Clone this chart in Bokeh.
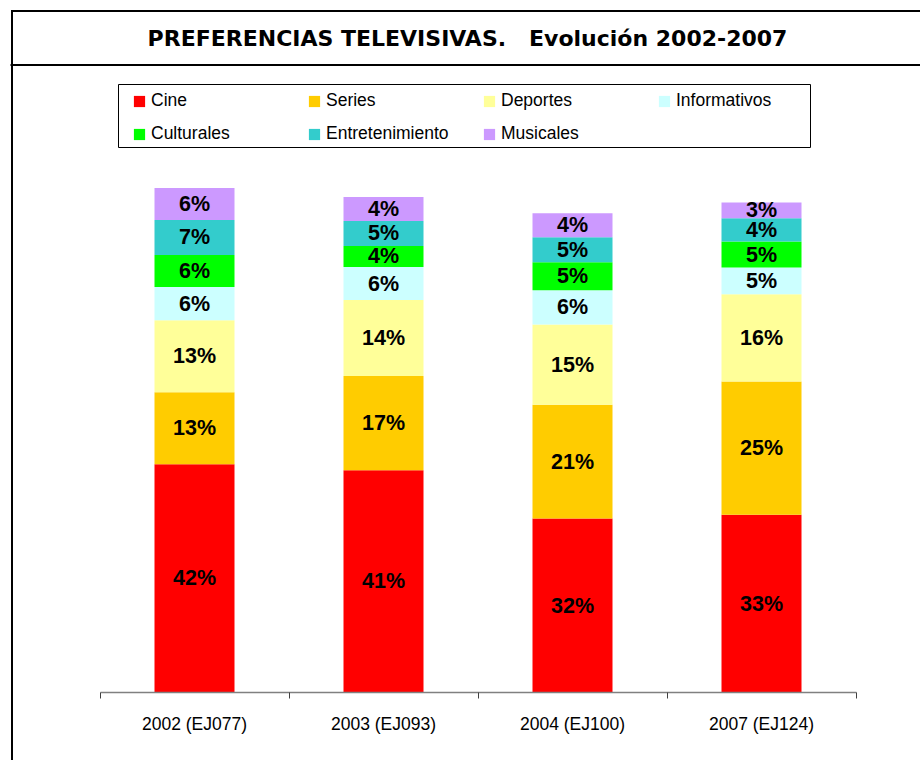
from bokeh.plotting import figure
from bokeh.models import (ColumnDataSource, LinearAxis, FixedTicker, Range1d)
from bokeh.core.properties import value
from bokeh.embed import file_html
from bokeh.resources import INLINE

# ---------------- data ----------------
categories = ["2002 (EJ077)", "2003 (EJ093)", "2004 (EJ100)", "2007 (EJ124)"]
series_names = ["Cine", "Series", "Deportes", "Informativos",
                "Culturales", "Entretenimiento", "Musicales"]
cine = [42.1, 41.0, 32.1, 32.8]
series = [13.3, 17.4, 21.0, 24.6]
deportes = [13.3, 14.0, 14.8, 16.1]
informativos = [6.1, 6.1, 6.3, 4.9]
culturales = [5.9, 3.9, 5.2, 4.8]
entretenimiento = [6.5, 4.6, 4.6, 4.3]
musicales = [5.9, 4.4, 4.4, 2.9]
colors = ["#FF0000", "#FFCC00", "#FFFF99", "#CCFFFF",
          "#00FF00", "#33CCCC", "#CC99FF"]
title_text = "PREFERENCIAS TELEVISIVAS.\u00a0\u00a0\u00a0Evolución 2002-2007"

# ---------------- layout (pixels) ----------------
W, H = 920, 760          # canvas size
OFF = 0
X0_PX = 99.5 - OFF       # canvas x of category boundary 0
PX_X = 189.0             # pixels per category
Y0_PX = 692 - OFF        # canvas y of value 0
PX_Y = 5.42              # pixels per percent

x_start = -X0_PX / PX_X
x_end = x_start + W / PX_X
y_start = -(H - Y0_PX) / PX_Y
y_end = y_start + H / PX_Y


def xd(sx):
    return x_start + (sx - OFF) / PX_X


def yd(sy):
    return y_end - (sy - OFF) / PX_Y


p = figure(width=W, height=H, output_backend="svg", toolbar_location=None,
           x_range=Range1d(x_start, x_end), y_range=Range1d(y_start, y_end),
           x_axis_type=None, y_axis_type=None, min_border=0,
           outline_line_color=None, background_fill_color="white",
           border_fill_color="white")
p.xgrid.visible = False
p.ygrid.visible = False

# frame lines (border + title separator)
p.segment(x0=[xd(11.5), xd(10.5), xd(10.0)],
          y0=[yd(10.0), yd(10.5), yd(64.5)],
          x1=[xd(11.5), xd(930), xd(930)],
          y1=[yd(770), yd(10.5), yd(64.5)],
          line_color="black", line_width=2)

# title
p.text(x=[xd(467)], y=[yd(37.5)], text=[title_text],
       text_font=value("DejaVu Sans"), text_font_style="bold",
       text_font_size="22px", text_align="center", text_baseline="middle",
       text_color="black")

# legend box
p.quad(left=[xd(118)], right=[xd(810)], top=[yd(84)], bottom=[yd(147)],
       fill_color="white", line_color="black", line_width=1)

# bars
xs = [i + 0.5 for i in range(len(categories))]
values = [cine, series, deportes, informativos, culturales,
          entretenimiento, musicales]
data = {"x": xs}
for name, vals in zip(series_names, values):
    data[name] = vals
src = ColumnDataSource(data)
p.vbar_stack(series_names, x="x", width=80 / PX_X, source=src,
             fill_color=colors, line_color=None,
             legend_label=series_names)

# value labels
lx, ly, lt = [], [], []
for j, x in enumerate(xs):
    base = 0.0
    for vals in values:
        v = vals[j]
        lx.append(x)
        ly.append(base + v / 2)
        lt.append("%d%%" % int(v + 0.5))
        base += v
p.text(x=lx, y=ly, text=lt, text_font=value("Liberation Sans"),
       text_font_style="bold", text_font_size="21.5px",
       text_align="center", text_baseline="middle", text_color="black")

# x axis at y = 0
centers = xs
bounds_ticks = list(range(len(categories) + 1))
ax = LinearAxis(ticker=FixedTicker(ticks=centers, minor_ticks=bounds_ticks),
                fixed_location=0, bounds=(0, len(categories)))
ax.major_label_overrides = {c: lab for c, lab in zip(centers, categories)}
ax.major_tick_line_color = None
ax.minor_tick_line_color = "#404040"
ax.minor_tick_in = 0
ax.minor_tick_out = 6
ax.axis_line_color = "#808080"
ax.axis_line_width = 1.5
ax.major_label_standoff = 15
ax.major_label_text_font = "Liberation Sans"
ax.major_label_text_font_size = "17.5px"
ax.major_label_text_color = "black"
p.add_layout(ax, "below")

# legend
lg = p.legend[0]
lg.orientation = "horizontal"
lg.ncols = 4
lg.location = (132, H - 72 - 72)
lg.padding = 10
lg.margin = 0
lg.spacing = 12
lg.glyph_width = 14
lg.glyph_height = 14
lg.label_standoff = 5
lg.label_width = 144
lg.label_height = 20
lg.label_text_font = "Liberation Sans"
lg.label_text_font_size = "17.5px"
lg.label_text_color = "black"
lg.border_line_color = None
lg.background_fill_alpha = 0

open("out.html", "w").write(file_html(p, INLINE))
